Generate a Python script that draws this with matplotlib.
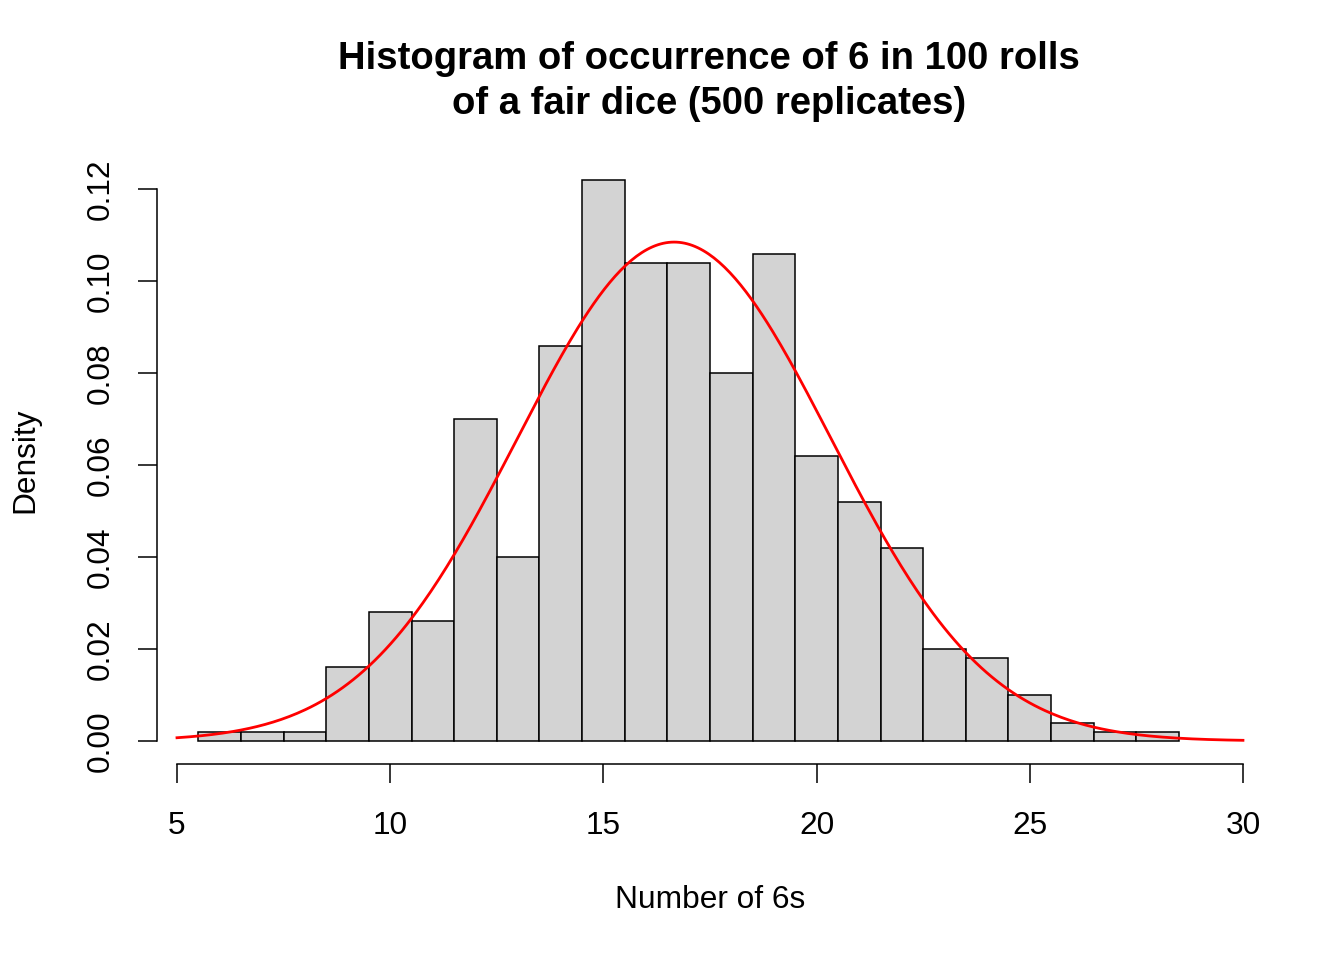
import numpy as np
import matplotlib
matplotlib.use("Agg")
import matplotlib.pyplot as plt

# ---- data ----
bin_left = [5.5, 6.5, 7.5, 8.5, 9.5, 10.5, 11.5, 12.5, 13.5, 14.5, 15.5, 16.5,
            17.5, 18.5, 19.5, 20.5, 21.5, 22.5, 23.5, 24.5, 25.5, 26.5, 27.5]
density = [0.002, 0.002, 0.002, 0.016, 0.028, 0.026, 0.070, 0.040, 0.086, 0.122,
           0.104, 0.104, 0.080, 0.106, 0.062, 0.052, 0.042, 0.020, 0.018, 0.010,
           0.004, 0.002, 0.002]
bin_width = 1.0
curve_mean = 16.66
curve_sd = 3.677
x_ticks = [5, 10, 15, 20, 25, 30]
y_ticks = [0.00, 0.02, 0.04, 0.06, 0.08, 0.10, 0.12]
y_tick_labels = ["0.00", "0.02", "0.04", "0.06", "0.08", "0.10", "0.12"]

plt.rcParams['font.family'] = ['Liberation Sans', 'DejaVu Sans']

W, H = 1344, 960
fig = plt.figure(figsize=(W / 100, H / 100), dpi=100)
L, R, T, B = 156.7, 1263.0, 157.0, 764.0
ax = fig.add_axes([L / W, 1 - B / H, (R - L) / W, (B - T) / H])

ax.bar(bin_left, density, width=bin_width, align='edge', color='#D3D3D3',
       edgecolor='black', linewidth=1.1, zorder=2)

xs = np.linspace(5, 30, 400)
ys = np.exp(-0.5 * ((xs - curve_mean) / curve_sd) ** 2) / (curve_sd * np.sqrt(2 * np.pi))
ax.plot(xs, ys, color='#FF0000', linewidth=2.0, zorder=3)

ax.set_xlim(4.524, 30.47)
ax.set_ylim(-0.005, 0.127)

for s in ['top', 'right']:
    ax.spines[s].set_visible(False)
ax.spines['left'].set_bounds(0, 0.12)
ax.spines['bottom'].set_bounds(5, 30)
ax.spines['left'].set_linewidth(1.1)
ax.spines['bottom'].set_linewidth(1.1)

ax.set_xticks(x_ticks)
ax.set_xticklabels([str(t) for t in x_ticks])
ax.set_yticks(y_ticks)
ax.set_yticklabels(y_tick_labels, rotation=90, va='center')
ax.tick_params(axis='both', length=13.7, width=1.1, labelsize=22.8)
ax.tick_params(axis='x', pad=20)
ax.tick_params(axis='y', pad=16)

fig.text(710 / W, 1 - 900 / H, "Number of 6s", ha='center', va='center', fontsize=22.8)
fig.text(25 / W, 1 - 460 / H, "Density", ha='center', va='center', fontsize=22.8, rotation=90)
fig.text(709 / W, 1 - 81.5 / H, "Histogram of occurrence of 6 in 100 rolls\nof a fair dice (500 replicates)",
         ha='center', va='center', fontsize=27.5, fontweight='bold', linespacing=1.32)

fig.savefig("out.png", dpi=100)
